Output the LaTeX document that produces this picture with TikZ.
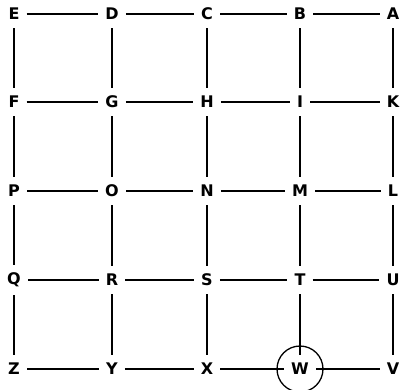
\documentclass[tikz,border=0pt]{standalone}
\usepackage{fontspec}
\newfontfamily\gridfont{DejaVu Sans}
\usetikzlibrary{positioning}

\begin{document}
\begin{tikzpicture}[x=1pt, y=-1pt,
    lab/.style={font=\gridfont\bfseries\fontsize{16}{16}\selectfont,
                inner xsep=7pt, inner ysep=8pt},
    link/.style={line width=1.1pt, draw=black},
    ring/.style={draw, circle, line width=1.3pt, minimum size=46pt}
  ]
  \useasboundingbox (0,0) rectangle (406,389);

  % letters of the grid
  \foreach \row/\yy [count=\r] in {{E,D,C,B,A}/14, {F,G,H,I,K}/102,
      {P,O,N,M,L}/191, {Q,R,S,T,U}/280, {Z,Y,X,W,V}/369}
    \foreach \l [count=\c] in \row {
      \pgfmathsetmacro\xx{{14,112,207,300,393}[\c-1]}
      \node[lab] (n\r\c) at (\xx,\yy) {\l};
    }

  % horizontal and vertical lines
  \foreach \i in {1,...,5}
    \foreach \j/\k in {1/2,2/3,3/4,4/5} {
      \draw[link] (n\i\j) -- (n\i\k);
      \draw[link] (n\j\i) -- (n\k\i);
    }

  \node[ring] (ring) at (n54) {};
\end{tikzpicture}
\end{document}
